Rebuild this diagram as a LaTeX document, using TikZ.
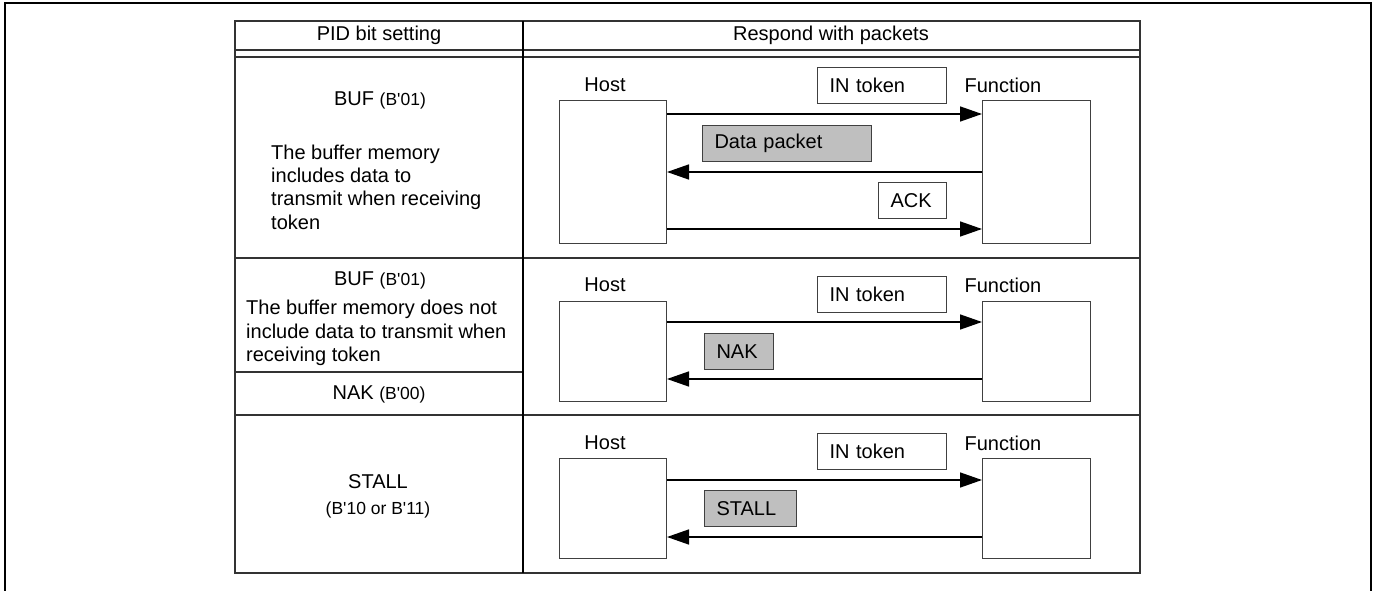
\documentclass[tikz,border=0pt]{standalone}
\usepackage{fontspec}
\setmainfont{Liberation Sans}[Ligatures=TeXOff]
\usetikzlibrary{arrows.meta}
\newcommand\smfont{\fontsize{17.5}{20}\selectfont}
\begin{document}
\begin{tikzpicture}[x=1pt,y=-1pt,
  frameline/.style={line width=2.2pt,draw=black},
  tbl/.style={line width=1.3pt,draw=black!80},
  big/.style={font=\fontsize{20}{23.4}\selectfont,inner sep=0pt},
  hostbox/.style={draw=black!75,line width=1pt,fill=white,minimum width=107pt,inner sep=0pt,anchor=north west},
  pkt/.style={draw=black!75,line width=1pt,minimum height=36pt,inner xsep=12pt,inner ysep=0pt,anchor=north west,align=left,font=\fontsize{20}{23.4}\selectfont},
  gpkt/.style={pkt,fill=black!25},
  arr/.style={line width=1.5pt,-{Triangle[length=22pt,width=15pt]}}
]
\useasboundingbox (0,0) rectangle (1374,591);
% outer frame (open at bottom)
\draw[frameline] (5,591) -- (5,3) -- (1371,3) -- (1371,591);
% table
\draw[tbl] (235,21) rectangle (1140,573);
\draw[tbl] (235,50) -- (1140,50);
\draw[tbl] (235,57) -- (1140,57);
\draw[tbl] (235,258) -- (1140,258);
\draw[tbl] (235,415) -- (1140,415);
\draw[tbl] (235,372) -- (522.7,372);
\draw[line width=1.6pt] (522.7,21) -- (522.7,573);
% headers
\node[big] (hdA) at (379,35) {PID bit setting};
\node[big] (hdB) at (831,35) {Respond with packets};
% left column
\node[big] (s1) at (380,100) {BUF {\smfont (B'01)}};
\node[big,align=left,anchor=west] (d1) at (271,187) {The buffer memory\\includes data to\\transmit when receiving\\token};
\node[big] (s2) at (380,280) {BUF {\smfont (B'01)}};
\node[big,align=left,anchor=west] (d2) at (246,333) {The buffer memory does not\\include data to transmit when\\receiving token};
\node[big] (s3) at (379,394) {NAK {\smfont (B'00)}};
\node[big] (s4) at (378,482) {STALL};
\node[inner sep=0pt,font=\smfont] (s5) at (378,510) {(B'10 or B'11)};
% row 1
\node[big] (hl1) at (605,85) {Host};
\node[big] (fl1) at (1003,85) {Function};
\node[hostbox,minimum height=143pt] (h1) at (559,100) {};
\node[hostbox,minimum height=143pt,minimum width=108pt] (f1) at (982,100) {};
\node[pkt,text width=105pt] (in1) at (817,67) {IN token};
\node[gpkt,text width=145pt] (dp) at (702,125) {Data packet};
\node[pkt,text width=44pt] (ack) at (878,182) {ACK};
\draw[arr] ([yshift=-14pt]h1.north east) -- ([yshift=-14pt]f1.north west);
\draw[arr] ([yshift=-72pt]f1.north west) -- ([yshift=-72pt]h1.north east);
\draw[arr] ([yshift=-129pt]h1.north east) -- ([yshift=-129pt]f1.north west);
% row 2
\node[big] (hl2) at (605,285) {Host};
\node[big] (fl2) at (1003,285) {Function};
\node[hostbox,minimum height=100pt] (h2) at (559,301) {};
\node[hostbox,minimum height=100pt,minimum width=108pt] (f2) at (982,301) {};
\node[pkt,text width=105pt] (in2) at (817,276) {IN token};
\node[gpkt,text width=45pt] (nak) at (704,333) {NAK};
\draw[arr] ([yshift=-21pt]h2.north east) -- ([yshift=-21pt]f2.north west);
\draw[arr] ([yshift=-78pt]f2.north west) -- ([yshift=-78pt]h2.north east);
% row 3
\node[big] (hl3) at (605,443) {Host};
\node[big] (fl3) at (1003,443) {Function};
\node[hostbox,minimum height=100pt] (h3) at (559,458) {};
\node[hostbox,minimum height=100pt,minimum width=108pt] (f3) at (982,458) {};
\node[pkt,text width=105pt] (in3) at (817,433) {IN token};
\node[gpkt,text width=68pt] (stall) at (704,490) {STALL};
\draw[arr] ([yshift=-22pt]h3.north east) -- ([yshift=-22pt]f3.north west);
\draw[arr] ([yshift=-79pt]f3.north west) -- ([yshift=-79pt]h3.north east);
\end{tikzpicture}
\end{document}
